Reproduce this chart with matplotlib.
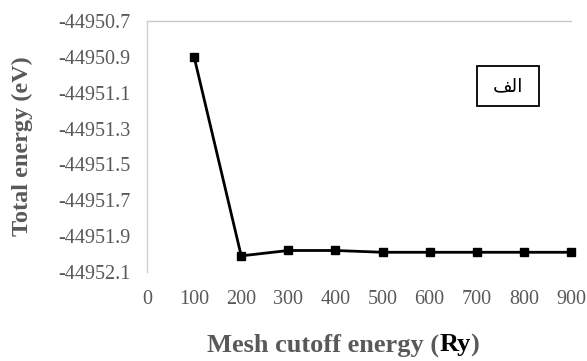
import matplotlib
matplotlib.use("Agg")
import matplotlib.pyplot as plt
from matplotlib.ticker import FixedLocator
from matplotlib.patches import Rectangle

# Convergence of total energy with mesh cutoff
cutoff = [100, 200, 300, 400, 500, 600, 700, 800, 900]
energy = [-44950.90, -44952.01, -44951.98, -44951.98, -44951.99,
          -44951.99, -44951.99, -44951.99, -44951.99]
x_ticks = [0, 100, 200, 300, 400, 500, 600, 700, 800, 900]
y_ticks = [-44952.1, -44951.9, -44951.7, -44951.5, -44951.3,
           -44951.1, -44950.9, -44950.7]
panel_label = "\uFED2\uFEDF\uFE8D"  # "الف" in shaped presentation forms

plt.rcParams["axes.unicode_minus"] = False

W, H = 587, 361
fig = plt.figure(figsize=(W / 100, H / 100), dpi=100)
left, right, top, bottom = 147, 571, 21, 272
ax = fig.add_axes([left / W, 1 - bottom / H, (right - left) / W, (bottom - top) / H])

serif = ["Liberation Serif", "DejaVu Serif"]
gray = "#595959"

ax.plot(cutoff, energy, color="black", lw=2, marker="s", ms=6,
        markerfacecolor="black", markeredgecolor="black", clip_on=False, zorder=3)

ax.set_xlim(0, 900)
ax.set_ylim(-44952.1, -44950.7)
ax.xaxis.set_major_locator(FixedLocator(x_ticks))
ax.yaxis.set_major_locator(FixedLocator(y_ticks))
ax.set_xticklabels([str(v) for v in x_ticks])
ax.set_yticklabels([f"{v:.1f}" for v in y_ticks])

for lab in ax.get_xticklabels() + ax.get_yticklabels():
    lab.set_fontfamily(serif)
    lab.set_fontsize(14.5)
    lab.set_color(gray)

ax.tick_params(axis="both", length=0)
ax.tick_params(axis="x", pad=13)
ax.tick_params(axis="y", pad=12)

for s in ["right", "bottom", "top"]:
    ax.spines[s].set_visible(False)
ax.spines["left"].set_color("#d0d0d0")
ax.spines["left"].set_linewidth(1)
ax.axhline(-44950.7, color="#c8c8c8", lw=1, zorder=1, clip_on=False)

# Axis titles
fig.text(22 / W, 1 - 146 / H, "Total energy (eV)", rotation=90, ha="center", va="center",
         fontfamily=serif, fontweight="bold", fontsize=17.5, color=gray)
xl_size = 19
t1 = fig.text(207 / W, 1 - 345 / H, "Mesh cutoff energy (", ha="left", va="center",
              fontfamily=serif, fontweight="bold", fontsize=xl_size, color=gray)
fig.canvas.draw()
bb = t1.get_window_extent()
t2 = fig.text(bb.x1 / W, 1 - 345 / H, "Ry", ha="left", va="center",
              fontfamily=serif, fontweight="bold", fontsize=xl_size, color="black")
fig.canvas.draw()
bb2 = t2.get_window_extent()
fig.text(bb2.x1 / W, 1 - 345 / H, ")", ha="left", va="center",
         fontfamily=serif, fontweight="bold", fontsize=xl_size, color=gray)

# Panel label box
bx0, bx1, by0, by1 = 477, 539, 66, 106
fig.patches.append(Rectangle((bx0 / W, 1 - by1 / H), (bx1 - bx0) / W, (by1 - by0) / H,
                             transform=fig.transFigure, facecolor="white",
                             edgecolor="black", lw=1.3, zorder=5))
fig.text((bx0 + bx1) / 2 / W, 1 - (by0 + by1) / 2 / H, panel_label, ha="center", va="center",
         fontfamily="DejaVu Sans", fontsize=13.5, color="black", zorder=6)

fig.savefig("out.png", dpi=100)
